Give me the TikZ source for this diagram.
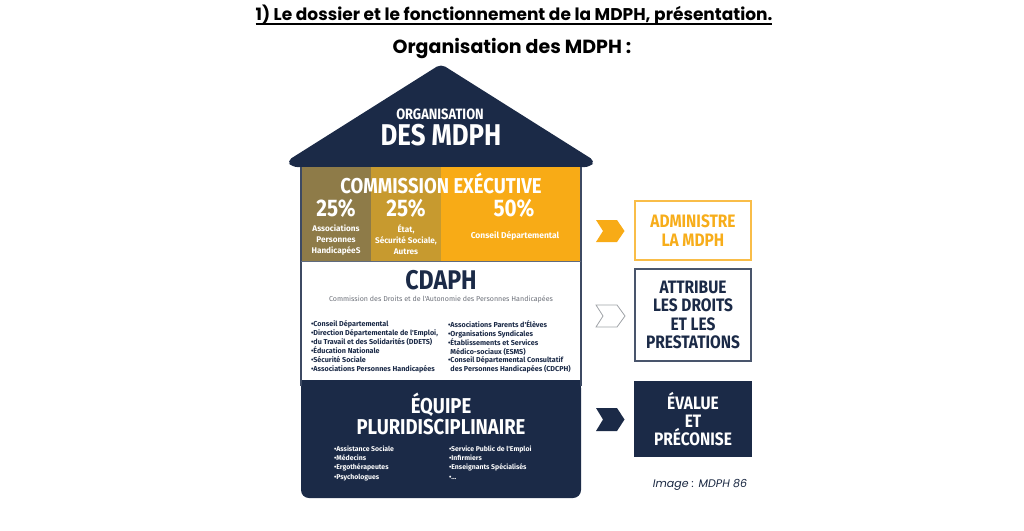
\documentclass[tikz,border=0pt]{standalone}
\usepackage{fontspec}
\setmainfont{Fira Sans}
\newfontfamily\pop{Poppins}
\newfontfamily\fira[FakeStretch=0.86]{Fira Sans}
\newfontfamily\firaN{Fira Sans}
\definecolor{navy}{HTML}{1B2A47}
\definecolor{colA}{HTML}{8E7B48}
\definecolor{colB}{HTML}{C79A2F}
\definecolor{colC}{HTML}{F8AB16}
\definecolor{orangeT}{HTML}{F7AD1A}
\definecolor{grayT}{HTML}{6B6F78}
\begin{document}
\begin{tikzpicture}[x=1pt,y=-1pt,
  every node/.style={inner sep=0pt, outer sep=0pt},
  hbig/.style={font=\fira\bfseries\fontsize{#1}{#1}\selectfont, text=white, align=center},
  small/.style={font=\firaN\bfseries\fontsize{8.2}{11}\selectfont, text=white, align=center},
  lst/.style={font=\firaN\bfseries\fontsize{#1}{8.9}\selectfont, align=left, anchor=north west},
  rbox/.style={minimum width=116, minimum height=#1, line width=1.3},
  rtxt/.style={font=\fira\bfseries\fontsize{18}{18.3}\selectfont, align=center},
  chev/.style={line join=miter}]
\useasboundingbox (0,0) rectangle (1024,530);
% titles
\node (title) at (514,15) {\pop\bfseries\fontsize{17}{20}\selectfont 1) Le dossier et le fonctionnement de la MDPH, présentation.\ };
\draw[black, line width=1.1] ([yshift=-3.5]title.base west) -- ([yshift=-3.5]title.base east);
\node (subtitle) at (512,49) {\pop\bfseries\fontsize{19}{22}\selectfont Organisation des MDPH :};
% roof
\fill[navy, rounded corners=5] (441,64) -- (595,161) -- (590,167) -- (292,167) -- (287,161) -- cycle;
\node[hbig=15] (org) at (440,114) {ORGANISATION};
\node[hbig=30] (des) at (441,135.5) {DES MDPH};
% body
\fill[colA] (301,167) rectangle (371,261);
\fill[colB] (371,167) rectangle (441,261);
\fill[colC] (441,167) rectangle (581,261);
\fill[navy, rounded corners=8] (301,380) -- (581,380) -- (581,498) -- (301,498) -- cycle;
\fill[navy] (301,380) rectangle (581,392);
\draw[navy!85, line width=1.2] (301,167) -- (301,386);
\draw[navy!85, line width=1.2] (581,167) -- (581,386);
\draw[navy!70, line width=1.5] (301,261.5) -- (581,261.5);
% commission
\node[hbig=21.5] (ce) at (441,183.5) {COMMISSION EXÉCUTIVE};
\node[hbig=24] (p1) at (336,208) {25\%};
\node[hbig=24] (p2) at (406,208) {25\%};
\node[hbig=24] (p3) at (514,208) {50\%};
\node[small] (t1) at (336,240) {Associations\\Personnes\\HandicapéeS};
\node[small] (t2) at (406,240) {État,\\Sécurité Sociale,\\Autres};
\node[small, font=\firaN\bfseries\fontsize{8.5}{11}\selectfont] (t3) at (515,236) {Conseil Départemental};
% CDAPH
\node[hbig=27, text=navy] (cdaph) at (441,280.5) {CDAPH};
\node[font=\firaN\fontsize{7.1}{8}\selectfont, text=grayT] (cdsub) at (441,299.5) {Commission des Droits et de l'Autonomie des Personnes Handicapées};
\node[lst=7.2, text=navy] (cdl) at (311,320.5) {•Conseil Départemental\\•Direction Départementale de l'Emploi,\\•du Travail et des Solidarités (DDETS)\\•Éducation Nationale\\•Sécurité Sociale\\•Associations Personnes Handicapées};
\node[lst=7.2, text=navy] (cdr) at (448,320.5) {•Associations Parents d'Élèves\\•Organisations Syndicales\\•Établissements et Services\\\phantom{•}Médico-sociaux (ESMS)\\•Conseil Départemental Consultatif\\\phantom{•}des Personnes Handicapées (CDCPH)};
% Equipe
\node[hbig=21.5, text=white] (eq) at (441,414) {ÉQUIPE\\[-1pt]PLURIDISCIPLINAIRE};
\node[lst=6.9, text=white, font=\firaN\bfseries\fontsize{6.9}{9.4}\selectfont] (eql) at (334,445.5) {•Assistance Sociale\\•Médecins\\•Ergothérapeutes\\•Psychologues};
\node[lst=6.9, text=white, font=\firaN\bfseries\fontsize{6.9}{9.4}\selectfont] (eqr) at (449,445.5) {•Service Public de l'Emploi\\•Infirmiers\\•Enseignants Spécialisés\\•...};
% chevrons
\fill[colC, chev] (596,220) -- (617,220) -- (624.5,231) -- (617,242) -- (596,242) -- (603,231) -- cycle;
\draw[gray!70!navy!60, line width=0.8, chev] (596,305) -- (617,305) -- (625,316) -- (617,327) -- (596,327) -- (603,316) -- cycle;
\fill[navy, chev] (596,408) -- (617,408) -- (624.5,419.5) -- (617,431) -- (596,431) -- (603,419.5) -- cycle;
% right boxes
\node[rbox=59, draw=orangeT!80] (b1) at (693,230.5) {};
\node[rtxt, text=orangeT] (b1t) at (b1) {ADMINISTRE\\LA MDPH};
\node[rbox=92, draw=navy!80] (b2) at (693,315) {};
\node[rtxt, text=navy] (b2t) at (b2) {ATTRIBUE\\LES DROITS\\ET LES\\PRESTATIONS};
\node[rbox=74, fill=navy, draw=navy] (b3) at (693,419) {};
\node[rtxt, text=white] (b3t) at (b3) {ÉVALUE\\ET\\PRÉCONISE};
\node[font=\pop\itshape\fontsize{11}{13}\selectfont, text=navy!90!black] (img) at (700,485) {Image : MDPH 86};
\end{tikzpicture}
\end{document}
